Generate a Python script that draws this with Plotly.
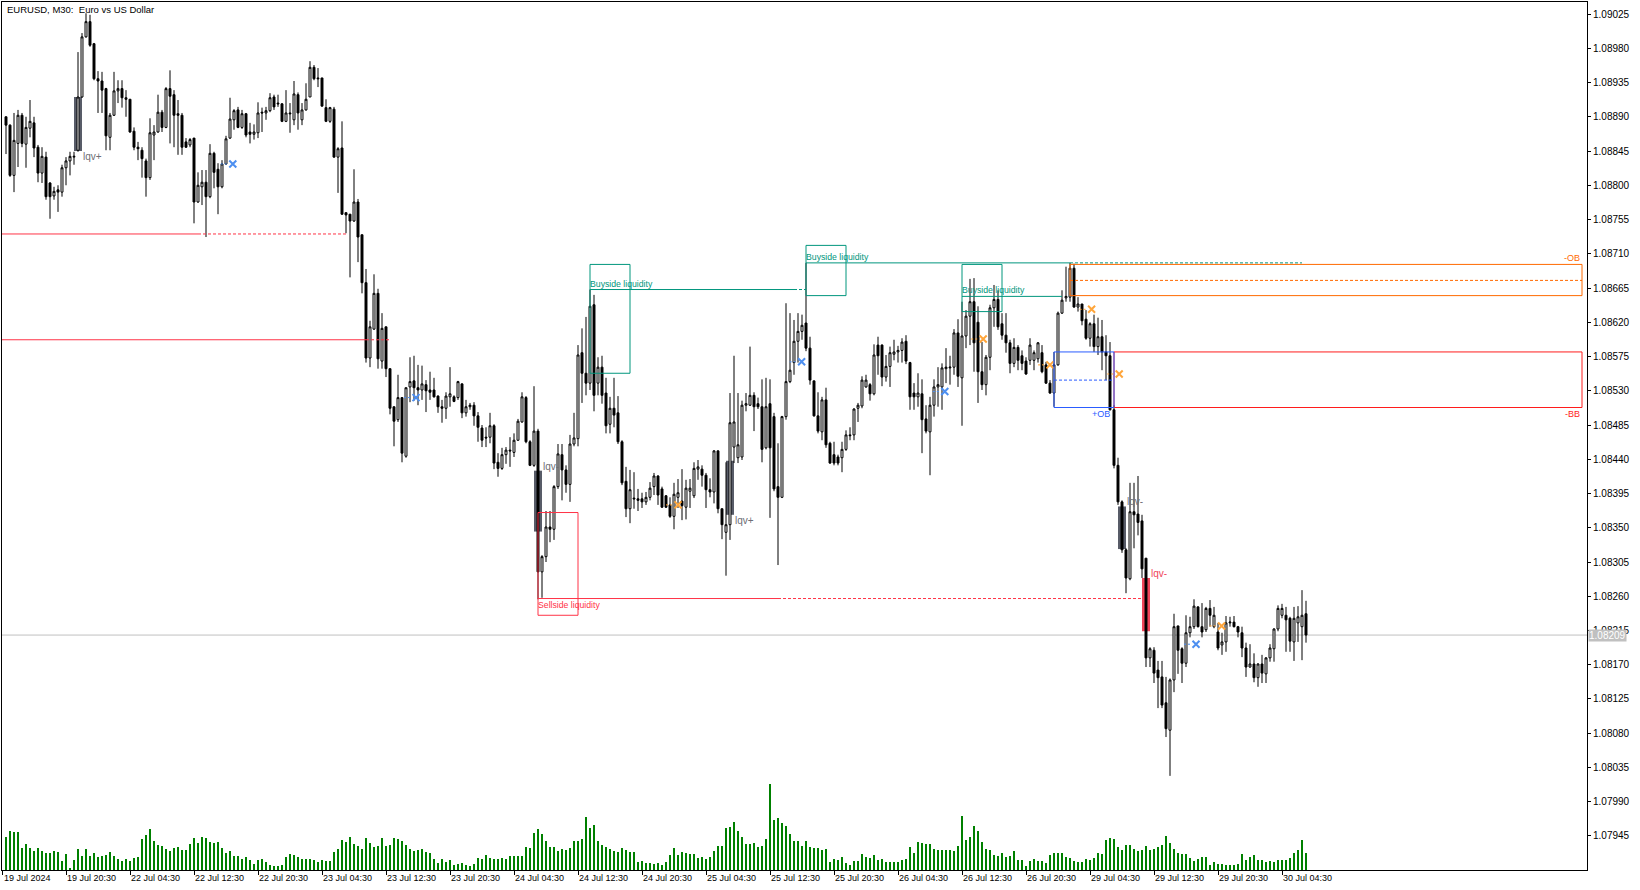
import plotly.graph_objects as go
from datetime import datetime, timedelta

chart_title = "EURUSD, M30:  Euro vs US Dollar"
first_bar_time = datetime(2024, 7, 19, 13, 0)

open_ = [
    1.08890, 1.08879, 1.08813, 1.08855, 1.08892, 1.08854, 1.08875, 1.08882, 1.08850, 1.08816,
    1.08837, 1.08803, 1.08786, 1.08794, 1.08791, 1.08823, 1.08832, 1.08837, 1.08846, 1.08916,
    1.08995, 1.09015, 1.08986, 1.08940, 1.08937, 1.08927, 1.08863, 1.08892, 1.08924, 1.08927,
    1.08915, 1.08913, 1.08871, 1.08850, 1.08846, 1.08832, 1.08810, 1.08866, 1.08870, 1.08896,
    1.08876, 1.08927, 1.08919, 1.08894, 1.08892, 1.08857, 1.08853, 1.08862, 1.08778, 1.08798,
    1.08804, 1.08785, 1.08842, 1.08821, 1.08798, 1.08828, 1.08862, 1.08886, 1.08899, 1.08876,
    1.08894, 1.08870, 1.08867, 1.08869, 1.08896, 1.08895, 1.08898, 1.08916, 1.08908, 1.08907,
    1.08884, 1.08895, 1.08886, 1.08919, 1.08886, 1.08899, 1.08916, 1.08955, 1.08941, 1.08941,
    1.08902, 1.08884, 1.08900, 1.08837, 1.08849, 1.08764, 1.08762, 1.08753, 1.08778, 1.08735,
    1.08672, 1.08573, 1.08611, 1.08658, 1.08569, 1.08614, 1.08559, 1.08509, 1.08492, 1.08521,
    1.08444, 1.08535, 1.08543, 1.08534, 1.08531, 1.08538, 1.08531, 1.08531, 1.08523, 1.08509,
    1.08507, 1.08522, 1.08522, 1.08521, 1.08539, 1.08501, 1.08509, 1.08511, 1.08497, 1.08481,
    1.08469, 1.08469, 1.08484, 1.08436, 1.08428, 1.08446, 1.08452, 1.08449, 1.08465, 1.08489,
    1.08521, 1.08463, 1.08432, 1.08477, 1.08292, 1.08312, 1.08351, 1.08348, 1.08404, 1.08446,
    1.08426, 1.08407, 1.08460, 1.08467, 1.08580, 1.08553, 1.08540, 1.08643, 1.08540, 1.08561,
    1.08527, 1.08486, 1.08507, 1.08501, 1.08463, 1.08411, 1.08375, 1.08389, 1.08388, 1.08388,
    1.08384, 1.08390, 1.08404, 1.08418, 1.08401, 1.08392, 1.08380, 1.08365, 1.08390, 1.08385,
    1.08377, 1.08398, 1.08392, 1.08427, 1.08427, 1.08419, 1.08400, 1.08397, 1.08451, 1.08375,
    1.08344, 1.08354, 1.08456, 1.08442, 1.08443, 1.08511, 1.08511, 1.08524, 1.08513, 1.08509,
    1.08455, 1.08513, 1.08496, 1.08404, 1.08390, 1.08496, 1.08542, 1.08567, 1.08595, 1.08608,
    1.08619, 1.08586, 1.08543, 1.08497, 1.08476, 1.08518, 1.08461, 1.08446, 1.08443, 1.08442,
    1.08453, 1.08472, 1.08472, 1.08507, 1.08510, 1.08535, 1.08538, 1.08526, 1.08590, 1.08590,
    1.08548, 1.08562, 1.08578, 1.08581, 1.08583, 1.08595, 1.08567, 1.08527, 1.08522, 1.08526,
    1.08493, 1.08476, 1.08511, 1.08535, 1.08535, 1.08559, 1.08560, 1.08561, 1.08606, 1.08547,
    1.08602, 1.08628, 1.08647, 1.08620, 1.08555, 1.08538, 1.08574, 1.08639, 1.08650, 1.08618,
    1.08603, 1.08593, 1.08566, 1.08587, 1.08576, 1.08569, 1.08570, 1.08570, 1.08572, 1.08580,
    1.08564, 1.08540, 1.08527, 1.08564, 1.08632, 1.08652, 1.08653, 1.08691, 1.08640, 1.08644,
    1.08624, 1.08599, 1.08618, 1.08588, 1.08601, 1.08581, 1.08576, 1.08505, 1.08432, 1.08384,
    1.08321, 1.08283, 1.08371, 1.08368, 1.08359, 1.08310, 1.08179, 1.08189, 1.08163, 1.08154,
    1.08120, 1.08084, 1.08150, 1.08221, 1.08191, 1.08172, 1.08212, 1.08220, 1.08246, 1.08220,
    1.08216, 1.08244, 1.08220, 1.08213, 1.08196, 1.08200, 1.08225, 1.08226, 1.08220, 1.08212,
    1.08192, 1.08167, 1.08171, 1.08153, 1.08171, 1.08158, 1.08179, 1.08191, 1.08217, 1.08235,
    1.08235, 1.08231, 1.08200, 1.08225, 1.08220, 1.08237,
]
high = [
    1.08890, 1.08880, 1.08895, 1.08899, 1.08895, 1.08890, 1.08912, 1.08890, 1.08853, 1.08850,
    1.08844, 1.08804, 1.08798, 1.08800, 1.08827, 1.08837, 1.08844, 1.08844, 1.08975, 1.09000,
    1.09026, 1.09024, 1.08987, 1.08950, 1.08949, 1.08928, 1.08895, 1.08949, 1.08938, 1.08938,
    1.08925, 1.08913, 1.08876, 1.08857, 1.08850, 1.08835, 1.08888, 1.08879, 1.08919, 1.08899,
    1.08929, 1.08951, 1.08925, 1.08912, 1.08895, 1.08862, 1.08862, 1.08862, 1.08817, 1.08820,
    1.08820, 1.08854, 1.08844, 1.08829, 1.08833, 1.08865, 1.08915, 1.08900, 1.08903, 1.08899,
    1.08895, 1.08882, 1.08880, 1.08909, 1.08902, 1.08903, 1.08921, 1.08919, 1.08919, 1.08908,
    1.08925, 1.08908, 1.08937, 1.08922, 1.08908, 1.08934, 1.08963, 1.08958, 1.08954, 1.08941,
    1.08913, 1.08903, 1.08903, 1.08850, 1.08884, 1.08764, 1.08762, 1.08821, 1.08782, 1.08735,
    1.08690, 1.08622, 1.08683, 1.08664, 1.08632, 1.08614, 1.08559, 1.08509, 1.08551, 1.08521,
    1.08534, 1.08574, 1.08576, 1.08564, 1.08563, 1.08544, 1.08555, 1.08547, 1.08524, 1.08518,
    1.08528, 1.08561, 1.08524, 1.08543, 1.08540, 1.08518, 1.08514, 1.08515, 1.08502, 1.08485,
    1.08482, 1.08501, 1.08486, 1.08448, 1.08455, 1.08456, 1.08469, 1.08474, 1.08493, 1.08528,
    1.08523, 1.08465, 1.08536, 1.08480, 1.08314, 1.08372, 1.08372, 1.08406, 1.08460, 1.08460,
    1.08432, 1.08472, 1.08501, 1.08590, 1.08612, 1.08627, 1.08663, 1.08656, 1.08574, 1.08576,
    1.08547, 1.08522, 1.08547, 1.08523, 1.08465, 1.08430, 1.08426, 1.08423, 1.08401, 1.08396,
    1.08397, 1.08410, 1.08422, 1.08419, 1.08404, 1.08393, 1.08390, 1.08409, 1.08414, 1.08427,
    1.08413, 1.08414, 1.08436, 1.08439, 1.08432, 1.08422, 1.08415, 1.08452, 1.08452, 1.08375,
    1.08436, 1.08527, 1.08576, 1.08527, 1.08517, 1.08527, 1.08588, 1.08528, 1.08521, 1.08545,
    1.08547, 1.08545, 1.08501, 1.08461, 1.08497, 1.08645, 1.08632, 1.08623, 1.08632, 1.08630,
    1.08698, 1.08601, 1.08543, 1.08528, 1.08522, 1.08534, 1.08463, 1.08463, 1.08446, 1.08463,
    1.08478, 1.08482, 1.08507, 1.08514, 1.08549, 1.08551, 1.08540, 1.08591, 1.08601, 1.08591,
    1.08577, 1.08588, 1.08597, 1.08589, 1.08599, 1.08603, 1.08568, 1.08540, 1.08553, 1.08545,
    1.08511, 1.08522, 1.08545, 1.08561, 1.08566, 1.08586, 1.08576, 1.08611, 1.08624, 1.08647,
    1.08636, 1.08677, 1.08678, 1.08641, 1.08594, 1.08577, 1.08643, 1.08669, 1.08662, 1.08632,
    1.08632, 1.08597, 1.08599, 1.08590, 1.08583, 1.08574, 1.08599, 1.08583, 1.08594, 1.08590,
    1.08568, 1.08544, 1.08581, 1.08634, 1.08662, 1.08693, 1.08698, 1.08697, 1.08653, 1.08644,
    1.08636, 1.08620, 1.08630, 1.08626, 1.08623, 1.08603, 1.08594, 1.08511, 1.08442, 1.08386,
    1.08323, 1.08409, 1.08409, 1.08418, 1.08367, 1.08310, 1.08193, 1.08193, 1.08175, 1.08175,
    1.08154, 1.08152, 1.08237, 1.08221, 1.08193, 1.08235, 1.08233, 1.08256, 1.08247, 1.08251,
    1.08246, 1.08255, 1.08246, 1.08225, 1.08212, 1.08234, 1.08233, 1.08234, 1.08221, 1.08220,
    1.08199, 1.08197, 1.08185, 1.08172, 1.08183, 1.08180, 1.08197, 1.08218, 1.08248, 1.08250,
    1.08246, 1.08233, 1.08246, 1.08247, 1.08268, 1.08254,
]
low = [
    1.08841, 1.08811, 1.08791, 1.08824, 1.08850, 1.08823, 1.08863, 1.08837, 1.08804, 1.08803,
    1.08781, 1.08756, 1.08781, 1.08765, 1.08785, 1.08800, 1.08813, 1.08827, 1.08844, 1.08915,
    1.08994, 1.08982, 1.08938, 1.08895, 1.08895, 1.08846, 1.08846, 1.08891, 1.08908, 1.08902,
    1.08890, 1.08869, 1.08846, 1.08833, 1.08810, 1.08785, 1.08807, 1.08833, 1.08869, 1.08870,
    1.08875, 1.08855, 1.08850, 1.08840, 1.08840, 1.08849, 1.08850, 1.08750, 1.08777, 1.08774,
    1.08732, 1.08783, 1.08796, 1.08762, 1.08796, 1.08827, 1.08861, 1.08873, 1.08875, 1.08874,
    1.08863, 1.08855, 1.08860, 1.08862, 1.08870, 1.08886, 1.08896, 1.08899, 1.08903, 1.08883,
    1.08883, 1.08869, 1.08879, 1.08873, 1.08879, 1.08898, 1.08916, 1.08938, 1.08929, 1.08903,
    1.08883, 1.08882, 1.08836, 1.08790, 1.08761, 1.08737, 1.08679, 1.08752, 1.08699, 1.08658,
    1.08567, 1.08561, 1.08610, 1.08559, 1.08559, 1.08548, 1.08499, 1.08457, 1.08489, 1.08436,
    1.08442, 1.08515, 1.08517, 1.08511, 1.08518, 1.08502, 1.08518, 1.08521, 1.08501, 1.08488,
    1.08493, 1.08509, 1.08515, 1.08518, 1.08494, 1.08496, 1.08505, 1.08484, 1.08463, 1.08456,
    1.08456, 1.08461, 1.08427, 1.08417, 1.08426, 1.08434, 1.08430, 1.08443, 1.08464, 1.08488,
    1.08461, 1.08431, 1.08430, 1.08256, 1.08258, 1.08305, 1.08331, 1.08334, 1.08401, 1.08386,
    1.08396, 1.08384, 1.08457, 1.08457, 1.08514, 1.08524, 1.08531, 1.08503, 1.08524, 1.08513,
    1.08474, 1.08474, 1.08482, 1.08460, 1.08406, 1.08364, 1.08356, 1.08375, 1.08372, 1.08376,
    1.08380, 1.08386, 1.08393, 1.08380, 1.08376, 1.08376, 1.08363, 1.08348, 1.08376, 1.08360,
    1.08361, 1.08376, 1.08389, 1.08413, 1.08404, 1.08376, 1.08390, 1.08382, 1.08369, 1.08335,
    1.08287, 1.08334, 1.08435, 1.08435, 1.08439, 1.08503, 1.08510, 1.08477, 1.08506, 1.08436,
    1.08453, 1.08363, 1.08398, 1.08301, 1.08389, 1.08492, 1.08540, 1.08551, 1.08567, 1.08597,
    1.08582, 1.08538, 1.08496, 1.08474, 1.08465, 1.08455, 1.08434, 1.08432, 1.08432, 1.08423,
    1.08451, 1.08465, 1.08465, 1.08489, 1.08507, 1.08534, 1.08517, 1.08524, 1.08551, 1.08536,
    1.08542, 1.08535, 1.08570, 1.08567, 1.08567, 1.08565, 1.08505, 1.08505, 1.08509, 1.08448,
    1.08474, 1.08419, 1.08496, 1.08509, 1.08505, 1.08540, 1.08538, 1.08551, 1.08535, 1.08484,
    1.08586, 1.08590, 1.08555, 1.08514, 1.08531, 1.08524, 1.08557, 1.08614, 1.08610, 1.08597,
    1.08580, 1.08553, 1.08561, 1.08557, 1.08557, 1.08551, 1.08564, 1.08557, 1.08567, 1.08553,
    1.08539, 1.08526, 1.08509, 1.08563, 1.08631, 1.08647, 1.08647, 1.08639, 1.08634, 1.08616,
    1.08597, 1.08588, 1.08581, 1.08577, 1.08557, 1.08544, 1.08504, 1.08428, 1.08380, 1.08317,
    1.08264, 1.08281, 1.08323, 1.08340, 1.08284, 1.08167, 1.08167, 1.08146, 1.08113, 1.08113,
    1.08075, 1.08024, 1.08134, 1.08158, 1.08146, 1.08167, 1.08206, 1.08217, 1.08219, 1.08206,
    1.08213, 1.08220, 1.08218, 1.08189, 1.08183, 1.08187, 1.08220, 1.08219, 1.08206, 1.08180,
    1.08154, 1.08166, 1.08147, 1.08141, 1.08146, 1.08146, 1.08174, 1.08174, 1.08214, 1.08231,
    1.08187, 1.08187, 1.08175, 1.08200, 1.08176, 1.08199,
]
close = [
    1.08879, 1.08813, 1.08859, 1.08892, 1.08855, 1.08876, 1.08884, 1.08849, 1.08816, 1.08838,
    1.08785, 1.08785, 1.08792, 1.08791, 1.08823, 1.08832, 1.08838, 1.08838, 1.08916, 1.08995,
    1.09015, 1.08984, 1.08940, 1.08937, 1.08925, 1.08865, 1.08892, 1.08924, 1.08927, 1.08915,
    1.08913, 1.08870, 1.08850, 1.08848, 1.08835, 1.08810, 1.08869, 1.08870, 1.08896, 1.08876,
    1.08927, 1.08917, 1.08892, 1.08892, 1.08850, 1.08850, 1.08860, 1.08778, 1.08800, 1.08804,
    1.08785, 1.08842, 1.08817, 1.08798, 1.08828, 1.08861, 1.08887, 1.08898, 1.08876, 1.08894,
    1.08866, 1.08867, 1.08870, 1.08895, 1.08895, 1.08898, 1.08915, 1.08903, 1.08907, 1.08884,
    1.08895, 1.08894, 1.08920, 1.08895, 1.08899, 1.08913, 1.08955, 1.08940, 1.08940, 1.08904,
    1.08884, 1.08902, 1.08837, 1.08848, 1.08762, 1.08761, 1.08753, 1.08778, 1.08732, 1.08672,
    1.08573, 1.08614, 1.08658, 1.08572, 1.08612, 1.08559, 1.08507, 1.08490, 1.08521, 1.08448,
    1.08534, 1.08542, 1.08534, 1.08531, 1.08539, 1.08530, 1.08528, 1.08522, 1.08509, 1.08507,
    1.08523, 1.08526, 1.08516, 1.08542, 1.08501, 1.08509, 1.08511, 1.08497, 1.08482, 1.08465,
    1.08468, 1.08484, 1.08435, 1.08428, 1.08446, 1.08452, 1.08451, 1.08465, 1.08490, 1.08522,
    1.08463, 1.08432, 1.08477, 1.08292, 1.08312, 1.08351, 1.08348, 1.08404, 1.08447, 1.08426,
    1.08407, 1.08460, 1.08468, 1.08577, 1.08553, 1.08540, 1.08641, 1.08524, 1.08561, 1.08524,
    1.08484, 1.08507, 1.08498, 1.08463, 1.08409, 1.08375, 1.08400, 1.08388, 1.08386, 1.08384,
    1.08390, 1.08402, 1.08418, 1.08393, 1.08377, 1.08377, 1.08365, 1.08394, 1.08396, 1.08379,
    1.08402, 1.08402, 1.08428, 1.08430, 1.08419, 1.08400, 1.08397, 1.08451, 1.08375, 1.08354,
    1.08354, 1.08488, 1.08489, 1.08459, 1.08511, 1.08513, 1.08524, 1.08509, 1.08509, 1.08453,
    1.08509, 1.08455, 1.08401, 1.08390, 1.08496, 1.08542, 1.08557, 1.08595, 1.08608, 1.08616,
    1.08586, 1.08544, 1.08497, 1.08477, 1.08518, 1.08459, 1.08435, 1.08435, 1.08435, 1.08453,
    1.08472, 1.08471, 1.08506, 1.08511, 1.08544, 1.08544, 1.08526, 1.08577, 1.08576, 1.08548,
    1.08562, 1.08580, 1.08581, 1.08583, 1.08594, 1.08569, 1.08522, 1.08522, 1.08527, 1.08492,
    1.08477, 1.08511, 1.08535, 1.08538, 1.08560, 1.08561, 1.08561, 1.08606, 1.08549, 1.08602,
    1.08628, 1.08647, 1.08593, 1.08555, 1.08538, 1.08574, 1.08639, 1.08650, 1.08614, 1.08603,
    1.08593, 1.08566, 1.08587, 1.08570, 1.08566, 1.08552, 1.08590, 1.08580, 1.08593, 1.08555,
    1.08540, 1.08527, 1.08564, 1.08632, 1.08649, 1.08654, 1.08691, 1.08640, 1.08644, 1.08622,
    1.08599, 1.08618, 1.08588, 1.08601, 1.08581, 1.08576, 1.08505, 1.08432, 1.08384, 1.08321,
    1.08284, 1.08371, 1.08367, 1.08357, 1.08296, 1.08179, 1.08191, 1.08159, 1.08153, 1.08117,
    1.08086, 1.08150, 1.08220, 1.08189, 1.08172, 1.08212, 1.08220, 1.08247, 1.08220, 1.08213,
    1.08244, 1.08235, 1.08235, 1.08192, 1.08200, 1.08225, 1.08226, 1.08220, 1.08213, 1.08192,
    1.08167, 1.08171, 1.08153, 1.08171, 1.08159, 1.08179, 1.08192, 1.08217, 1.08244, 1.08244,
    1.08229, 1.08201, 1.08231, 1.08233, 1.08235, 1.08209,
]
# tick volume (relative units, as drawn in the chart window)
volume = [
    33, 39, 38, 38, 22, 26, 22, 19, 22, 19,
    17, 17, 19, 18, 9, 16, 2, 10, 21, 14,
    21, 14, 17, 13, 14, 15, 18, 14, 11, 9,
    11, 9, 12, 13, 31, 35, 41, 29, 25, 24,
    21, 19, 22, 23, 20, 20, 26, 32, 27, 33,
    32, 28, 27, 28, 22, 17, 19, 14, 14, 11,
    13, 10, 6, 10, 11, 8, 5, 4, 4, 5,
    13, 16, 15, 13, 11, 11, 11, 10, 8, 10,
    9, 9, 18, 21, 30, 28, 33, 26, 24, 21,
    32, 27, 23, 24, 32, 24, 25, 32, 31, 29,
    25, 21, 19, 20, 21, 18, 17, 11, 7, 11,
    8, 10, 5, 6, 7, 5, 4, 6, 12, 11,
    15, 12, 11, 11, 12, 11, 14, 14, 14, 14,
    23, 22, 37, 41, 36, 29, 23, 23, 19, 21,
    20, 22, 29, 29, 31, 53, 42, 45, 29, 25,
    23, 21, 19, 18, 22, 20, 18, 18, 8, 9,
    7, 7, 6, 7, 5, 8, 15, 22, 15, 18,
    17, 16, 16, 12, 13, 11, 13, 19, 24, 24,
    42, 43, 48, 39, 33, 26, 26, 27, 23, 24,
    31, 86, 50, 52, 47, 44, 36, 29, 29, 24,
    29, 23, 22, 22, 20, 21, 8, 11, 10, 13,
    7, 5, 9, 9, 16, 13, 12, 15, 10, 11,
    8, 8, 8, 8, 10, 11, 23, 17, 28, 27,
    26, 26, 21, 20, 20, 20, 20, 19, 24, 54,
    30, 33, 44, 39, 28, 21, 20, 15, 14, 17,
    13, 14, 19, 10, 10, 4, 9, 11, 9, 9,
    7, 15, 17, 17, 17, 13, 12, 9, 8, 8,
    11, 10, 12, 17, 16, 30, 32, 31, 23, 20,
    25, 25, 21, 19, 20, 24, 20, 21, 23, 25,
    34, 27, 21, 17, 16, 16, 12, 9, 11, 13,
    13, 5, 8, 6, 6, 5, 5, 5, 6, 16,
    10, 13, 15, 10, 10, 8, 9, 8, 10, 10,
    10, 12, 17, 20, 30, 17,
]

time_labels = [
    "19 Jul 2024", "19 Jul 20:30", "22 Jul 04:30", "22 Jul 12:30", "22 Jul 20:30",
    "23 Jul 04:30", "23 Jul 12:30", "23 Jul 20:30", "24 Jul 04:30", "24 Jul 12:30",
    "24 Jul 20:30", "25 Jul 04:30", "25 Jul 12:30", "25 Jul 20:30", "26 Jul 04:30",
    "26 Jul 12:30", "26 Jul 20:30", "29 Jul 04:30", "29 Jul 12:30", "29 Jul 20:30",
    "30 Jul 04:30",
]
price_ticks = [
    1.09025, 1.08980, 1.08935, 1.08890, 1.08845, 1.08800, 1.08755, 1.08710, 1.08665,
    1.08620, 1.08575, 1.08530, 1.08485, 1.08440, 1.08395, 1.08350, 1.08305, 1.08260,
    1.08215, 1.08170, 1.08125, 1.08080, 1.08035, 1.07990, 1.07945,
]
last_price = 1.08209

# ---- indicator objects (x in bar numbers, y in price) ----
TEAL = "#00967d"
RED_LIQ = "#ff3347"
ORANGE = "#ff6a00"
RED_BB = "#ff1c1c"
BLUE = "#2a5cff"

# price, start bar, end of solid part, end of dashed part, colour
liquidity_lines = [
    (1.08736, -1, 48, 85, RED_LIQ),
    (1.08597, -1, 90, 96, RED_LIQ),
    (1.08663, 146, 197, 200, TEAL),
    (1.08698, 200, 266, 324, TEAL),
    (1.08654, 239, 264, 264, TEAL),
    (1.08257, 133, 193, 284, RED_LIQ),
]
# label, x0, x1, low, high, level, colour, label side
liquidity_boxes = [
    ("Buyside liquidity", 146, 156, 1.08553, 1.08696, 1.08663, TEAL, "above"),
    ("Buyside liquidity", 200, 210, 1.08655, 1.08721, 1.08698, TEAL, "above"),
    ("Buyside liquidity", 239, 249, 1.08634, 1.08696, 1.08654, TEAL, "above"),
    ("Sellside liquidity", 133, 143, 1.08235, 1.08370, 1.08257, RED_LIQ, "below"),
]
# label, x0, x1, low, high, mid level (dashed) or None, colour, label x, label side
order_blocks = [
    ("-OB", 266, 394, 1.08655, 1.08696, 1.08675, ORANGE, 394, "above"),
    ("-BB", 277, 394, 1.08508, 1.08581, None, RED_BB, 394, "below"),
    ("+OB", 262, 277, 1.08508, 1.08581, 1.08544, BLUE, 276.5, "below"),
]
# label, centre bar, low, high, label price, fill colour, text colour
lqv_marks = [
    ("lqv+", 18, 1.08845, 1.08916, 1.08838, "#585c68", "#6e6e74"),
    ("lqv-", 133, 1.08345, 1.08425, 1.08430, "#585c68", "#6e6e74"),
    ("lqv+", 181, 1.08367, 1.08438, 1.08360, "#585c68", "#6e6e74"),
    ("lqv-", 279, 1.08322, 1.08378, 1.08384, "#585c68", "#6e6e74"),
    ("lqv-", 285, 1.08214, 1.08284, 1.08290, "#f0465a", "#f0465a"),
]
# swing markers (bar, price)
blue_marks_x = [56.7, 102.5, 198.9, 234.7, 297.5]
blue_marks_y = [1.08828, 1.08521, 1.08568, 1.08529, 1.08197]
orange_marks_x = [168.0, 244.3, 261.0, 271.4, 278.3, 303.9]
orange_marks_y = [1.08380, 1.08598, 1.08564, 1.08637, 1.08552, 1.08221]

FONT = "Liberation Sans, Arial, sans-serif"

# ---- bar times (M30, weekends skipped) ----
bar_times = []
t = first_bar_time
while len(bar_times) < len(close):
    if t.weekday() < 5:
        bar_times.append(t)
    t += timedelta(minutes=30)
bar_time_str = [bt.strftime("%d %b %H:%M") for bt in bar_times]
bars = list(range(len(close)))

tick_pos = [-0.85] + [bar_time_str.index(lbl) for lbl in time_labels[1:]]

fig = go.Figure()

fig.add_trace(go.Bar(
    x=bars, y=volume, yaxis="y2", width=0.22,
    marker=dict(color="#008000", line=dict(width=0)),
    hoverinfo="skip", showlegend=False,
))

fig.add_trace(go.Candlestick(
    x=bars, open=open_, high=high, low=low, close=close,
    increasing=dict(fillcolor="#ffffff", line=dict(color="#000000", width=1)),
    decreasing=dict(fillcolor="#000000", line=dict(color="#000000", width=1)),
    whiskerwidth=0, hoverinfo="skip", showlegend=False,
))

fig.add_trace(go.Scatter(
    x=blue_marks_x, y=blue_marks_y, mode="markers", hoverinfo="skip", showlegend=False,
    marker=dict(symbol="x-thin", size=7, line=dict(width=2, color="#4d8ff0")),
))
fig.add_trace(go.Scatter(
    x=orange_marks_x, y=orange_marks_y, mode="markers", hoverinfo="skip", showlegend=False,
    marker=dict(symbol="x-thin", size=7, line=dict(width=2, color="#ffa53a")),
))

shapes = []
annotations = []


def hline(y, x0, x1, color, dash="solid", layer="above"):
    shapes.append(dict(type="line", xref="x", yref="y", x0=x0, x1=x1, y0=y, y1=y,
                       line=dict(color=color, width=1, dash=dash), layer=layer))


# current price line
shapes.append(dict(type="line", xref="paper", yref="y", x0=0, x1=1, y0=last_price, y1=last_price,
                   line=dict(color="#c0c0c0", width=1), layer="below"))

for price, x0, xs, xd, col in liquidity_lines:
    hline(price, x0, xs, col)
    if xd > xs:
        hline(price, xs, xd, col, dash="3px,2px")

for label, x0, x1, lo, hi, lvl, col, side in liquidity_boxes:
    shapes.append(dict(type="rect", xref="x", yref="y", x0=x0, x1=x1, y0=lo, y1=hi,
                       line=dict(color=col, width=1), fillcolor="rgba(0,0,0,0)", layer="above"))
    annotations.append(dict(x=x0, y=lvl, xref="x", yref="y", text=label, showarrow=False,
                            xanchor="left", yanchor="bottom" if side == "above" else "top",
                            xshift=-2, yshift=-1 if side == "above" else 1,
                            font=dict(family=FONT, size=8.7, color=col)))

for label, x0, x1, lo, hi, mid, col, lx, side in order_blocks:
    shapes.append(dict(type="rect", xref="x", yref="y", x0=x0, x1=x1, y0=lo, y1=hi,
                       line=dict(color=col, width=1), fillcolor="rgba(0,0,0,0)", layer="above"))
    if mid is not None:
        hline(mid, x0, x1, col, dash="3px,2px")
    annotations.append(dict(x=lx, y=hi if side == "above" else lo, xref="x", yref="y", text=label,
                            showarrow=False, xanchor="right",
                            yanchor="bottom" if side == "above" else "top",
                            yshift=-1 if side == "above" else 1,
                            font=dict(family=FONT, size=9, color=col)))

for label, cb, lo, hi, lp, fill, tcol in lqv_marks:
    shapes.append(dict(type="rect", xref="x", yref="y", x0=cb - 1, x1=cb + 1, y0=lo, y1=hi,
                       line=dict(width=0), fillcolor=fill, layer="below"))
    annotations.append(dict(x=cb + 1, y=lp, xref="x", yref="y", text=label, showarrow=False,
                            xanchor="left", yanchor="middle", xshift=-1,
                            font=dict(family=FONT, size=10, color=tcol)))

# short dashes leading to swing markers
for mx, my in zip(blue_marks_x, blue_marks_y):
    hline(my, mx - 3, mx - 1, "#4d8ff0", dash="2px,2px")
for mx, my in zip(orange_marks_x, orange_marks_y):
    hline(my, mx - 3, mx - 1, "#ffa53a", dash="2px,2px")

# time labels (left-aligned on their tick, as in the terminal)
for pos, lbl in zip(tick_pos, time_labels):
    annotations.append(dict(x=pos, y=0, xref="x", yref="paper", text=lbl, showarrow=False,
                            xanchor="left", yanchor="top", yshift=-1, xshift=-1,
                            font=dict(family=FONT, size=9, color="#000000")))

# title
annotations.append(dict(x=0, y=1, xref="paper", yref="paper", text=chart_title, showarrow=False,
                        xanchor="left", yanchor="middle", xshift=3, yshift=-7,
                        font=dict(family=FONT, size=9.5, color="#000000")))

# last price label on the price scale
annotations.append(dict(x=1, y=last_price, xref="paper", yref="y", text=f"{last_price:.5f}",
                        showarrow=False, xanchor="left", yanchor="middle", xshift=1,
                        bgcolor="#c0c0c0", borderpad=0,
                        font=dict(family=FONT, size=10, color="#ffffff")))

fig.update_layout(
    width=1640, height=890,
    margin=dict(l=2, r=53, t=2, b=20),
    paper_bgcolor="#ffffff", plot_bgcolor="#ffffff",
    showlegend=False, hovermode=False,
    shapes=shapes, annotations=annotations,
    xaxis=dict(
        range=[-1, 395.25], tickvals=tick_pos, ticktext=[""] * len(tick_pos),
        ticks="outside", ticklen=4, tickcolor="#000000", showticklabels=False,
        showline=True, linecolor="#000000", linewidth=1, mirror=True,
        showgrid=False, zeroline=False, rangeslider=dict(visible=False), fixedrange=True,
    ),
    yaxis=dict(
        side="right", range=[1.079003, 1.090408],
        tickvals=price_ticks, ticktext=[f"{v:.5f}" for v in price_ticks],
        ticks="outside", ticklen=3, tickcolor="#000000",
        tickfont=dict(family=FONT, size=10, color="#000000"),
        showline=True, linecolor="#000000", linewidth=1, mirror=True,
        showgrid=False, zeroline=False, fixedrange=True,
    ),
    yaxis2=dict(overlaying="y", range=[0, 868], visible=False, fixedrange=True),
)

fig.write_html("out.html", config={"displayModeBar": False},
               post_script="document.body.style.margin='0';")
